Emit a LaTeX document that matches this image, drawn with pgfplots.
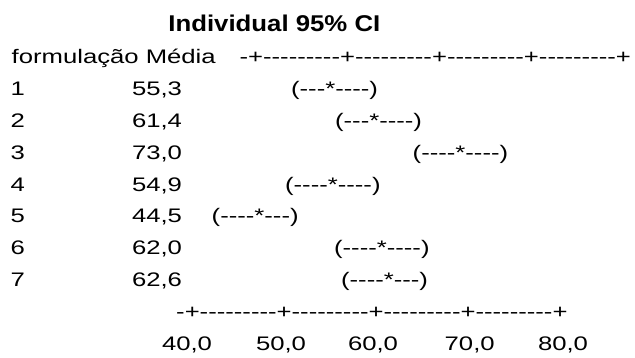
\documentclass[border=0pt]{standalone}
\usepackage{fontspec}
\usepackage{pgfplots}
\usepackage{pgfplotstable}
\pgfplotsset{compat=1.18}
\newfontfamily\rf{Liberation Sans}[FakeStretch=1.31]
\newfontfamily\tf{Liberation Sans}[FakeStretch=1.13]

% text lines of the Minitab-style interval plot; x,y = left end and baseline (pixels)
\pgfplotstableread[col sep=semicolon]{
x;y;t
11.7;63.3;formulação Média
239.6;63.6;-+---------+---------+---------+---------+
10.5;95.7;1
10.5;127.5;2
10.5;159.3;3
10.5;191.1;4
10.5;222.9;5
10.5;254.7;6
10.5;286.5;7
132;95.7;55,3
132;127.5;61,4
132;159.3;73,0
132;191.1;54,9
132;222.9;44,5
132;254.7;62,0
132;286.5;62,6
176.2;318.6;-+---------+---------+---------+---------+
162;350;40,0
256;350;50,0
348;350;60,0
444.7;350;70,0
538;350;80,0
}\regtext

% confidence-interval glyph strings: left end of each interval, baseline
\pgfplotstableread[col sep=semicolon]{
x;y;t
291.1;95.7;(---*----)
335.1;127.5;(---*----)
412.7;159.3;(----*----)
285.1;191.1;(----*----)
211.7;222.9;(----*---)
334.1;254.7;(----*----)
341.1;286.5;(----*---)
}\citext

\begin{document}
\begin{tikzpicture}
\begin{axis}[
  width=635pt, height=358pt, scale only axis,
  xmin=0, xmax=635, ymin=0, ymax=358, y dir=reverse,
  hide axis, clip=false,
  point meta=explicit symbolic,
  nodes near coords={\pgfplotspointmeta},
  every node near coord/.append style={anchor=base west, inner sep=0pt, outer sep=0pt,
     text=black, font=\rf\fontsize{19.6}{22}\selectfont},
]
\addplot[draw=none, mark=none] table[x=x, y=y, meta=t] \regtext;
\addplot[draw=none, mark=none] table[x=x, y=y, meta=t] \citext;
\addplot[draw=none, mark=none,
  nodes near coords={\tf\bfseries\fontsize{22.8}{25}\selectfont Individual 95\% CI}]
  coordinates {(168.4,31.7) [t]};
\end{axis}
\pgfresetboundingbox
\path (current axis.south west) rectangle (current axis.north east);
\end{tikzpicture}
\end{document}
